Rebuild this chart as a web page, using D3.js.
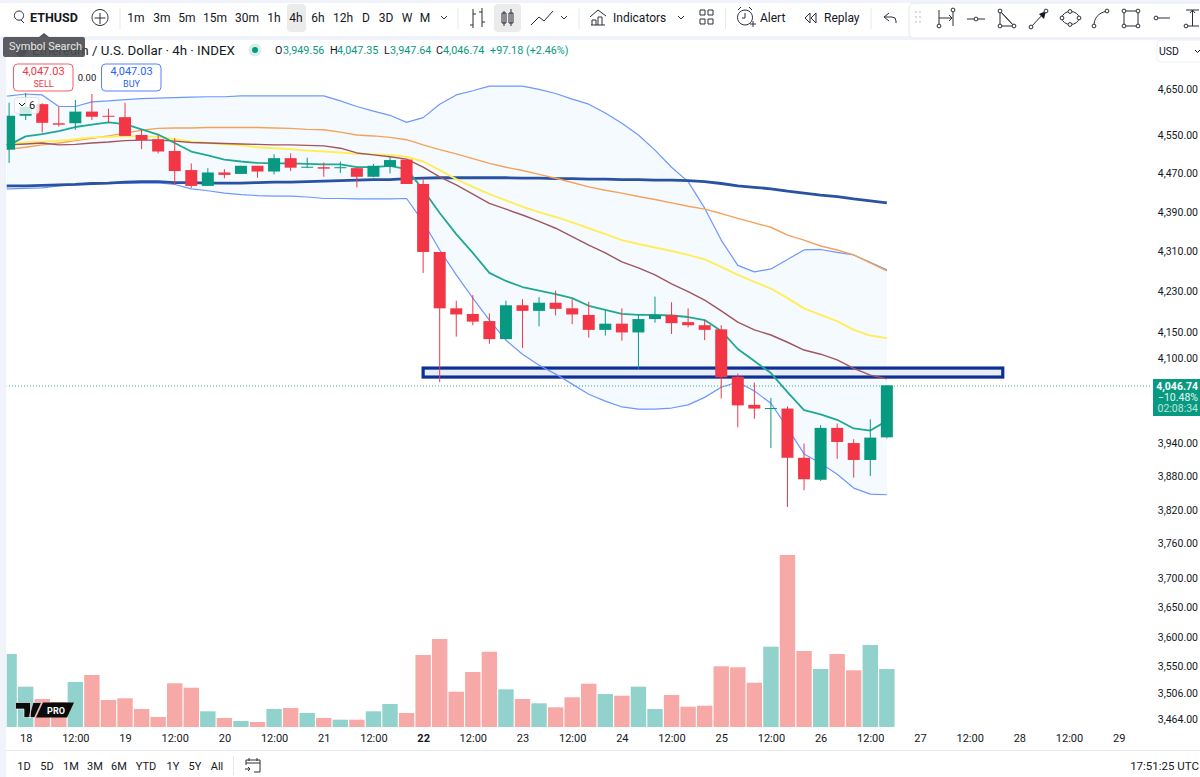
<!DOCTYPE html>
<html>
<head>
<meta charset="utf-8">
<style>
body { margin: 0; background: #fff; overflow: hidden; }
svg { display: block; }
text { font-family: Roboto, "Noto Sans", sans-serif; fill: #131722; }
</style>
<script src="https://cdn.jsdelivr.net/npm/d3@7"></script>
</head>
<body>
<div id="viz"></div>
<script>
// candles, first one is the bar before the 18th
var firstBar = -1;
var openPrices = [4518,4590,4615,4574,4574,4599,4590,4587,4549,4540,4515,4475,4442,4470,4467,4484,4472,4500,4480,4481,4480,4479,4461,4482,4497,4446,4307,4195,4184,4170,4135,4201,4190,4206,4195,4182,4153,4165,4148,4174,4182,4168,4162,4154,4063,4010,4003,4003,3912,3872,3967,3939,3908,3949.56];
var highPrices = [4618,4639,4617,4609,4624,4637,4605,4618,4560,4549,4542,4489,4479,4477,4484,4484,4508,4510,4501,4491,4493,4481,4488,4502,4497,4458,4307,4210,4221,4185,4210,4213,4217,4230,4213,4208,4192,4195,4183,4218,4207,4195,4172,4162,4069,4052,4023,4007,3938,3972,3975,3946,3983,4047.35];
var lowPrices = [4490,4581,4554,4567,4560,4581,4575,4547,4519,4510,4445,4438,4442,4458,4467,4459,4466,4473,4479,4461,4469,4439,4460,4468,4446,4265,4053,4140,4162,4126,4135,4118,4160,4181,4164,4138,4142,4132,4077,4167,4145,4158,4133,4022,3968,3984,3930,3823,3853,3870,3910,3876,3879,3947.64];
var closePrices = [4590,4609,4575,4571,4599,4588,4588,4547,4538,4514,4473,4442,4470,4465,4484,4472,4500,4480,4482,4478,4481,4461,4484,4496,4446,4307,4195,4183,4169,4135,4201,4190,4206,4194,4183,4153,4165,4148,4174,4182,4166,4162,4153,4062,4009,4003,4004,3912,3873,3967,3941,3908,3949,4046.74];
var volumes = [730,403,280,250,450,520,270,287,180,100,437,393,157,90,60,50,180,190,140,90,73,73,157,230,140,720,880,353,550,753,377,280,237,197,297,433,330,313,403,180,320,203,213,607,597,443,803,1720,760,580,730,567,820,580];

// indicators start one bar earlier, that bar runs off the left edge
var firstLineBar = -2;
var upperBand = [4631,4633,4637,4635,4610,4610,4620,4622,4625,4627,4628,4629,4630,4631,4631,4633,4633,4633,4633,4633,4633,4622,4610,4600,4591,4576,4586,4615,4635,4644,4654,4654,4654,4647,4638,4626,4615,4596,4574,4549,4517,4481,4451,4396,4331,4280,4267,4273,4292,4311,4312,4306,4301,4286,4271];
var lowerBand = [4436,4436,4437,4438,4442,4444,4446,4447,4447,4448,4448,4445,4436,4432,4427,4424,4422,4421,4421,4419,4416,4416,4415,4415,4415,4416,4368,4311,4261,4215,4172,4133,4106,4085,4068,4049,4030,4017,4006,4002,4002,4004,4010,4024,4043,4053,4036,4013,3967,3919,3902,3882,3857,3846,3845];
var fastLine = [4528,4528,4546,4551,4557,4566,4571,4576,4572,4561,4550,4532,4514,4506,4497,4493,4490,4489,4489,4488,4487,4487,4481,4481,4484,4477,4434,4386,4343,4305,4265,4249,4237,4230,4223,4215,4200,4192,4184,4182,4182,4181,4178,4172,4151,4116,4093,4070,4034,4000,3992,3982,3966,3962,3980];
var yellowLine = [4530,4531,4533,4535,4537,4540,4544,4545,4547,4546,4545,4540,4535,4532,4529,4527,4523,4521,4519,4516,4514,4512,4509,4508,4507,4503,4493,4475,4456,4440,4425,4412,4399,4388,4378,4367,4355,4343,4331,4323,4316,4309,4301,4292,4277,4261,4247,4234,4215,4195,4182,4170,4153,4142,4137];
var brownLine = [4528,4528,4530,4532,4528,4529,4532,4534,4537,4538,4538,4536,4533,4532,4531,4530,4529,4528,4528,4527,4526,4521,4511,4507,4503,4498,4481,4461,4444,4425,4406,4394,4382,4369,4355,4338,4321,4305,4287,4275,4261,4243,4228,4211,4190,4168,4153,4143,4129,4114,4106,4095,4079,4066,4059];
var orangeLine = [4516,4519,4523,4528,4532,4537,4542,4547,4553,4559,4563,4564,4564,4565,4565,4565,4565,4564,4563,4561,4560,4555,4549,4547,4544,4539,4528,4518,4509,4499,4489,4481,4474,4466,4458,4449,4440,4433,4427,4420,4414,4407,4400,4394,4385,4375,4366,4357,4341,4331,4319,4311,4301,4285,4269];
var navyLine = [4441,4442,4442,4443,4444,4445,4447,4448,4450,4451,4451,4449,4449,4448,4448,4448,4449,4450,4450,4451,4452,4453,4454,4455,4455,4457,4458,4459,4459,4459,4459,4459,4458,4458,4457,4457,4456,4456,4455,4455,4454,4454,4453,4451,4447,4442,4439,4436,4431,4427,4423,4420,4415,4411,4407];

// drawn box
var zoneBars = [24, 59];
var zonePrices = [4079.5, 4062.4];
var lastPrice = 4046.74;

var priceTicks = [4650,4550,4470,4390,4310,4230,4150,4100,3940,3880,3820,3760,3700,3650,3600,3550,3506,3464];
var timeTickBars = [0,3,6,9,12,15,18,21,24,27,30,33,36,39,42,45,48,51,54,57,60,63,66];
var timeTickLabels = ["18","12:00","19","12:00","20","12:00","21","12:00","22","12:00","23","12:00","24","12:00","25","12:00","26","12:00","27","12:00","28","12:00","29"];

var intervals = [["1m",136],["3m",162],["5m",187],["15m",215],["30m",247],["1h",274],["4h",296],["6h",318],["12h",343],["D",366],["3D",386],["W",407],["M",425]];
var ranges = [["1D",24],["5D",47],["1M",71],["3M",95],["6M",119],["YTD",146],["1Y",173],["5Y",195],["All",217]];
var ohlcLabels = [["O",275],["H",330],["L",384],["C",436]];
var ohlcValues = [["3,949.56",283],["4,047.35",337],["3,947.64",390],["4,046.74",443],["+97.18",490],["(+2.46%)",526]];

var upColor = "#089981";
var downColor = "#f23645";
var upVolume = "#92d2cc";
var downVolume = "#f7a9a7";

var svg = d3.select("#viz").append("svg")
    .attr("width", 1200)
    .attr("height", 777);

var x = d3.scaleLinear().domain([-1, 66]).range([9.1, 1118.7]);
var y = d3.scaleLog().domain([3464, 4650]).range([718, 88]);
var yVolume = d3.scaleLinear().domain([0, 1720]).range([727, 555]);

svg.append("clipPath").attr("id", "pane")
  .append("rect").attr("x", 6.7).attr("y", 41).attr("width", 1144).attr("height", 709);

// page frame
svg.append("rect").attr("width", 1200).attr("height", 777).attr("fill", "#fff");
svg.append("rect").attr("width", 1200).attr("height", 3).attr("fill", "#f0f3fa");
svg.append("rect").attr("y", 36).attr("width", 1200).attr("height", 4).attr("fill", "#f0f3fa");
svg.append("rect").attr("y", 36).attr("width", 6).attr("height", 741).attr("fill", "#f0f3fa");
svg.append("line").attr("x1", 6).attr("x2", 1200).attr("y1", 750.5).attr("y2", 750.5).attr("stroke", "#e6e8ee");

var pane = svg.append("g").attr("clip-path", "url(#pane)");

// volume
pane.selectAll(".vol")
    .data(volumes)
  .enter().append("rect")
    .attr("x", function(d, i) { return x(i + firstBar) - 7.7; })
    .attr("width", 15.4)
    .attr("y", function(d) { return yVolume(d); })
    .attr("height", function(d) { return yVolume(0) - yVolume(d); })
    .attr("fill", function(d, i) { return closePrices[i] >= openPrices[i] ? upVolume : downVolume; });

// bollinger fill
var area = d3.area()
    .x(function(d, i) { return x(i + firstLineBar); })
    .y0(function(d, i) { return y(lowerBand[i]); })
    .y1(function(d) { return y(d); });

pane.append("path").attr("d", area(upperBand)).attr("fill", "#f5faff");

// box
pane.append("rect")
    .attr("x", x(zoneBars[0]))
    .attr("width", x(zoneBars[1]) - x(zoneBars[0]))
    .attr("y", y(zonePrices[0]))
    .attr("height", y(zonePrices[1]) - y(zonePrices[0]))
    .attr("fill", "#e7edf9")
    .attr("stroke", "#0d2f96")
    .attr("stroke-width", 3.2);

var line = d3.line()
    .x(function(d, i) { return x(i + firstLineBar); })
    .y(function(d) { return y(d); });

var lineStyles = [
    [upperBand, "#6d97ff", 1.2],
    [lowerBand, "#6d97ff", 1.2],
    [navyLine, "#2a52a2", 2.8],
    [orangeLine, "#f4a25a", 1.4],
    [yellowLine, "#ffee58", 1.9],
    [brownLine, "#a1555f", 1.4],
    [fastLine, "#1fa892", 1.8]
];

pane.selectAll(".ind")
    .data(lineStyles)
  .enter().append("path")
    .attr("d", function(d) { return line(d[0]); })
    .attr("fill", "none")
    .attr("stroke", function(d) { return d[1]; })
    .attr("stroke-width", function(d) { return d[2]; })
    .attr("stroke-linejoin", "round");

// last price
pane.append("line")
    .attr("x1", 6).attr("x2", 1153)
    .attr("y1", y(lastPrice) + 0.7).attr("y2", y(lastPrice) + 0.7)
    .attr("stroke", upColor)
    .attr("stroke-opacity", 0.8)
    .attr("stroke-width", 1)
    .attr("stroke-dasharray", "1 2");

// candles
var candles = pane.selectAll(".candle")
    .data(openPrices)
  .enter().append("g")
    .attr("transform", function(d, i) { return "translate(" + x(i + firstBar) + ",0)"; })
    .attr("fill", function(d, i) { return closePrices[i] >= d ? upColor : downColor; })
    .attr("stroke", function(d, i) { return closePrices[i] >= d ? upColor : downColor; });

candles.append("line")
    .attr("y1", function(d, i) { return y(highPrices[i]); })
    .attr("y2", function(d, i) { return y(lowPrices[i]); })
    .attr("stroke-width", 1);

candles.append("rect")
    .attr("x", -6)
    .attr("width", 12)
    .attr("y", function(d, i) { return y(Math.max(d, closePrices[i])); })
    .attr("height", function(d, i) { return Math.max(1, Math.abs(y(d) - y(closePrices[i]))); })
    .attr("stroke", "none");

// axes
var priceAxis = d3.axisRight(y)
    .tickValues(priceTicks)
    .tickSize(0)
    .tickFormat(d3.format(",.2f"));

svg.append("g").attr("class", "price").attr("transform", "translate(1158,0)").call(priceAxis)
    .call(function(g) { g.select(".domain").remove(); })
    .selectAll("text")
    .attr("x", 40)
    .attr("dy", "0.42em")
    .attr("text-anchor", "end")
    .style("font-size", "10.5px");

var timeAxis = d3.axisBottom(x)
    .tickValues(timeTickBars)
    .tickSize(0)
    .tickFormat(function(d, i) { return timeTickLabels[i]; });

svg.append("g").attr("transform", "translate(0,727)").call(timeAxis)
    .call(function(g) { g.select(".domain").remove(); })
    .selectAll("text")
    .attr("dy", 0)
    .attr("y", 15)
    .style("font-size", "11px")
    .style("font-weight", function(d, i) { return timeTickLabels[i] == "22" ? "bold" : "normal"; });

// price tag
svg.append("rect").attr("x", 1153).attr("y", 379).attr("width", 47).attr("height", 37).attr("fill", upColor);
[[d3.format(",.2f")(lastPrice), 389.5, "#fff", "bold"], ["\u221210.48%", 400.5, "#e8f6f3", "normal"], ["02:08:34", 412, "#bfe6de", "normal"]].forEach(function(r) {
    svg.append("text").attr("x", 1198).attr("y", r[1]).attr("text-anchor", "end")
        .style("font-size", "10.5px").style("fill", r[2]).style("font-weight", r[3]).text(r[0]);
});

// legend row
svg.append("circle").attr("cx", 21).attr("cy", 50).attr("r", 6.5).attr("fill", "#7f8290");
svg.append("text").attr("x", 32).attr("y", 55).style("font-size", "13.3px").text("Ethereum / U.S. Dollar \u00b7 4h \u00b7 INDEX");
svg.append("circle").attr("cx", 255).attr("cy", 50).attr("r", 6.5).attr("fill", "#d5f0ea");
svg.append("circle").attr("cx", 255).attr("cy", 50).attr("r", 3).attr("fill", upColor);

ohlcLabels.forEach(function(d) {
    svg.append("text").attr("x", d[1]).attr("y", 54).style("font-size", "10.8px").text(d[0]);
});
ohlcValues.forEach(function(d) {
    svg.append("text").attr("x", d[1]).attr("y", 54).style("font-size", "10.8px").style("fill", upColor).text(d[0]);
});

// sell / buy
[[13.5, "#f23645", "4,047.03", "SELL"], [101.5, "#2962ff", "4,047.03", "BUY"]].forEach(function(d) {
    svg.append("rect").attr("x", d[0]).attr("y", 64).attr("width", 59.5).attr("height", 27).attr("rx", 4)
        .attr("fill", "#fff").attr("stroke", d[1]).attr("stroke-opacity", 0.8);
    svg.append("text").attr("x", d[0] + 30).attr("y", 75).attr("text-anchor", "middle")
        .style("font-size", "11px").style("fill", d[1]).text(d[2]);
    svg.append("text").attr("x", d[0] + 30).attr("y", 86.5).attr("text-anchor", "middle")
        .style("font-size", "9px").style("fill", d[1]).text(d[3]);
});
svg.append("text").attr("x", 87).attr("y", 80.5).attr("text-anchor", "middle").style("font-size", "9.5px").text("0.00");

// indicators collapse tag
svg.append("rect").attr("x", 14.5).attr("y", 97.5).attr("width", 24.5).attr("height", 16).attr("rx", 3)
    .attr("fill", "#fff").attr("fill-opacity", 0.8).attr("stroke", "#e0e3eb");
svg.append("path").attr("d", "M19 103l3 3 3-3").attr("fill", "none").attr("stroke", "#131722");
svg.append("text").attr("x", 32).attr("y", 109).attr("text-anchor", "middle").style("font-size", "11px").text("6");

// tv logo
var logo = svg.append("g");
logo.append("path").attr("d", "M15.5 702.5h15v15h-6.5v-8.5h-8.5zM33 702.5h8.5l-7 15h-5.5z").attr("fill", "#0b0b0b").attr("stroke", "#fff").attr("stroke-width", 0.6);
logo.append("path").attr("d", "M43 702.5h31l-7 15h-31z").attr("fill", "#0b0b0b");
logo.append("text").attr("x", 56).attr("y", 714).attr("text-anchor", "middle").style("font-size", "9px").style("font-weight", "bold").style("fill", "#fff").text("PRO");

// top toolbar
var top_ = svg.append("g");
top_.append("rect").attr("x", 287).attr("y", 4).attr("width", 19).attr("height", 28).attr("rx", 4).attr("fill", "#ebebeb");
top_.append("rect").attr("x", 494).attr("y", 4).attr("width", 27).attr("height", 28).attr("rx", 4).attr("fill", "#ebebeb");

top_.append("text").attr("x", 30).attr("y", 22).style("font-size", "12.5px").style("font-weight", "bold").text("ETHUSD");

top_.selectAll(".tf")
    .data(intervals)
  .enter().append("text")
    .attr("x", function(d) { return d[1]; })
    .attr("y", 22)
    .attr("text-anchor", "middle")
    .style("font-size", "12px")
    .text(function(d) { return d[0]; });

[["Indicators", 613], ["Alert", 760], ["Replay", 824]].forEach(function(d) {
    top_.append("text").attr("x", d[1]).attr("y", 22).style("font-size", "12px").text(d[0]);
});

[120, 458, 579, 725.5, 871].forEach(function(sx) {
    top_.append("line").attr("x1", sx).attr("x2", sx).attr("y1", 8).attr("y2", 29).attr("stroke", "#e6e8ee");
});

// all the toolbar glyphs as small paths
var iconPaths = [
    "M24 23l-3-3M19 11a4.6 4.6 0 1 0 .01 0",
    "M100 9.5a8 8 0 1 0 .01 0M100 13v11M94.5 18h11",
    "M441 16l3 3 3-3M561 16l3 3 3-3M678 16l3 3 3-3",
    "M473 9v19M473 25h-3M473 14h3M482 8v19M482 22h3M482 12h-3",
    "M504 11v15M504 13h-2v10h4v-10zM511 9v17M511 13h-2v10h4v-10z",
    "M531 25l8-8 5 4 9-10",
    "M591 25h14M592 25v-5h4v5M598 25v-8h4v8M590 17l8-7 8 6",
    "M700 10h5v5h-5zM708 10h5v5h-5zM700 19h5v5h-5zM708 19h5v5h-5z",
    "M745 10a7.5 7.5 0 1 0 .01 0M745 13v5h-3M738 10l3-3M752 10l-3-3M750 24h6M753 21v6",
    "M810 13l-5 5 5 5zM816 13l-5 5 5 5z",
    "M884 17l5-4M884 17l5 4M884 17h8a4 4 0 0 1 4 4v2",
    "M939 10v16M953 10v16M939 18h13M949 15l3 3-3 3",
    "M967 19h18",
    "M1000 11l0 15h14zM1000 11l14 15",
    "M1031 27l14-15",
    "M1062 18a8.5 6.5 0 1 0 17 0a8.5 6.5 0 1 0 -17 0",
    "M1094 26c0-8 4-13 13-15",
    "M1124 11h14v15h-14z",
    "M1156 18h14",
    "M1186 10h13M1186 26h13M1192.5 10v16M1190 13l2.5-3 2.5 3"
];
top_.selectAll(".icon")
    .data(iconPaths)
  .enter().append("path")
    .attr("d", String)
    .attr("fill", "none")
    .attr("stroke", "#2a2e39")
    .attr("stroke-width", 1);

// solid head on the arrow tool
top_.append("path").attr("d", "M1046 11l-2 8-5-5z").attr("fill", "#131722");

// drawing toolbar panel sits behind its glyphs
top_.insert("rect", ":first-child")
    .attr("x", 909).attr("y", 3).attr("width", 300).attr("height", 35).attr("rx", 5)
    .attr("fill", "#fff").attr("stroke", "#e6e8ee");

var nodes = [[939,26],[953,10],[976,19],[1000,11],[1000,26],[1014,26],[1031,27],[1046,11],[1070,11.5],[1070,24.5],[1062,18],[1079,18],[1094,26],[1107,11],[1124,11],[1138,11],[1124,26],[1138,26],[1156,18],[1186,26]];
top_.selectAll(".node")
    .data(nodes)
  .enter().append("circle")
    .attr("cx", function(d) { return d[0]; })
    .attr("cy", function(d) { return d[1]; })
    .attr("r", 1.9)
    .attr("fill", "#fff")
    .attr("stroke", "#2a2e39");

[[916,12],[920,12],[916,17],[920,17],[916,22],[920,22]].forEach(function(d) {
    top_.append("circle").attr("cx", d[0]).attr("cy", d[1]).attr("r", 0.9).attr("fill", "#c9ccd6");
});

// tooltip over the legend
svg.append("path").attr("d", "M44 33l5 4h-10z").attr("fill", "#55575c");
svg.append("rect").attr("x", 3).attr("y", 37).attr("width", 82).attr("height", 20).attr("rx", 2).attr("fill", "#4a4b50").attr("fill-opacity", 0.9);
svg.append("text").attr("x", 9).attr("y", 50).style("font-size", "11px").style("fill", "#e8e8e8").text("Symbol Search");

// currency box
svg.append("rect").attr("x", 1157).attr("y", 40).attr("width", 50).attr("height", 22).attr("rx", 3).attr("fill", "#fff").attr("stroke", "#eef0f4");
svg.append("text").attr("x", 1159).attr("y", 55).style("font-size", "10.5px").text("USD");
svg.append("path").attr("d", "M1195 50l2.5 2.5 2.5-2.5").attr("fill", "none").attr("stroke", "#131722");

// bottom bar
svg.selectAll(".range")
    .data(ranges)
  .enter().append("text")
    .attr("x", function(d) { return d[1]; })
    .attr("y", 770)
    .attr("text-anchor", "middle")
    .style("font-size", "11px")
    .text(function(d) { return d[0]; });

svg.append("line").attr("x1", 233.5).attr("x2", 233.5).attr("y1", 756).attr("y2", 775).attr("stroke", "#e6e8ee");
svg.append("path").attr("d", "M246 765v-5h14v12h-6M246 763h14M249 758v3M257 758v3M245 769h5M248 767l2 2-2 2")
    .attr("fill", "none").attr("stroke", "#2a2e39");
svg.append("text").attr("x", 1199).attr("y", 770).attr("text-anchor", "end").style("font-size", "11.5px").text("17:51:25 UTC");
</script>
</body>
</html>
